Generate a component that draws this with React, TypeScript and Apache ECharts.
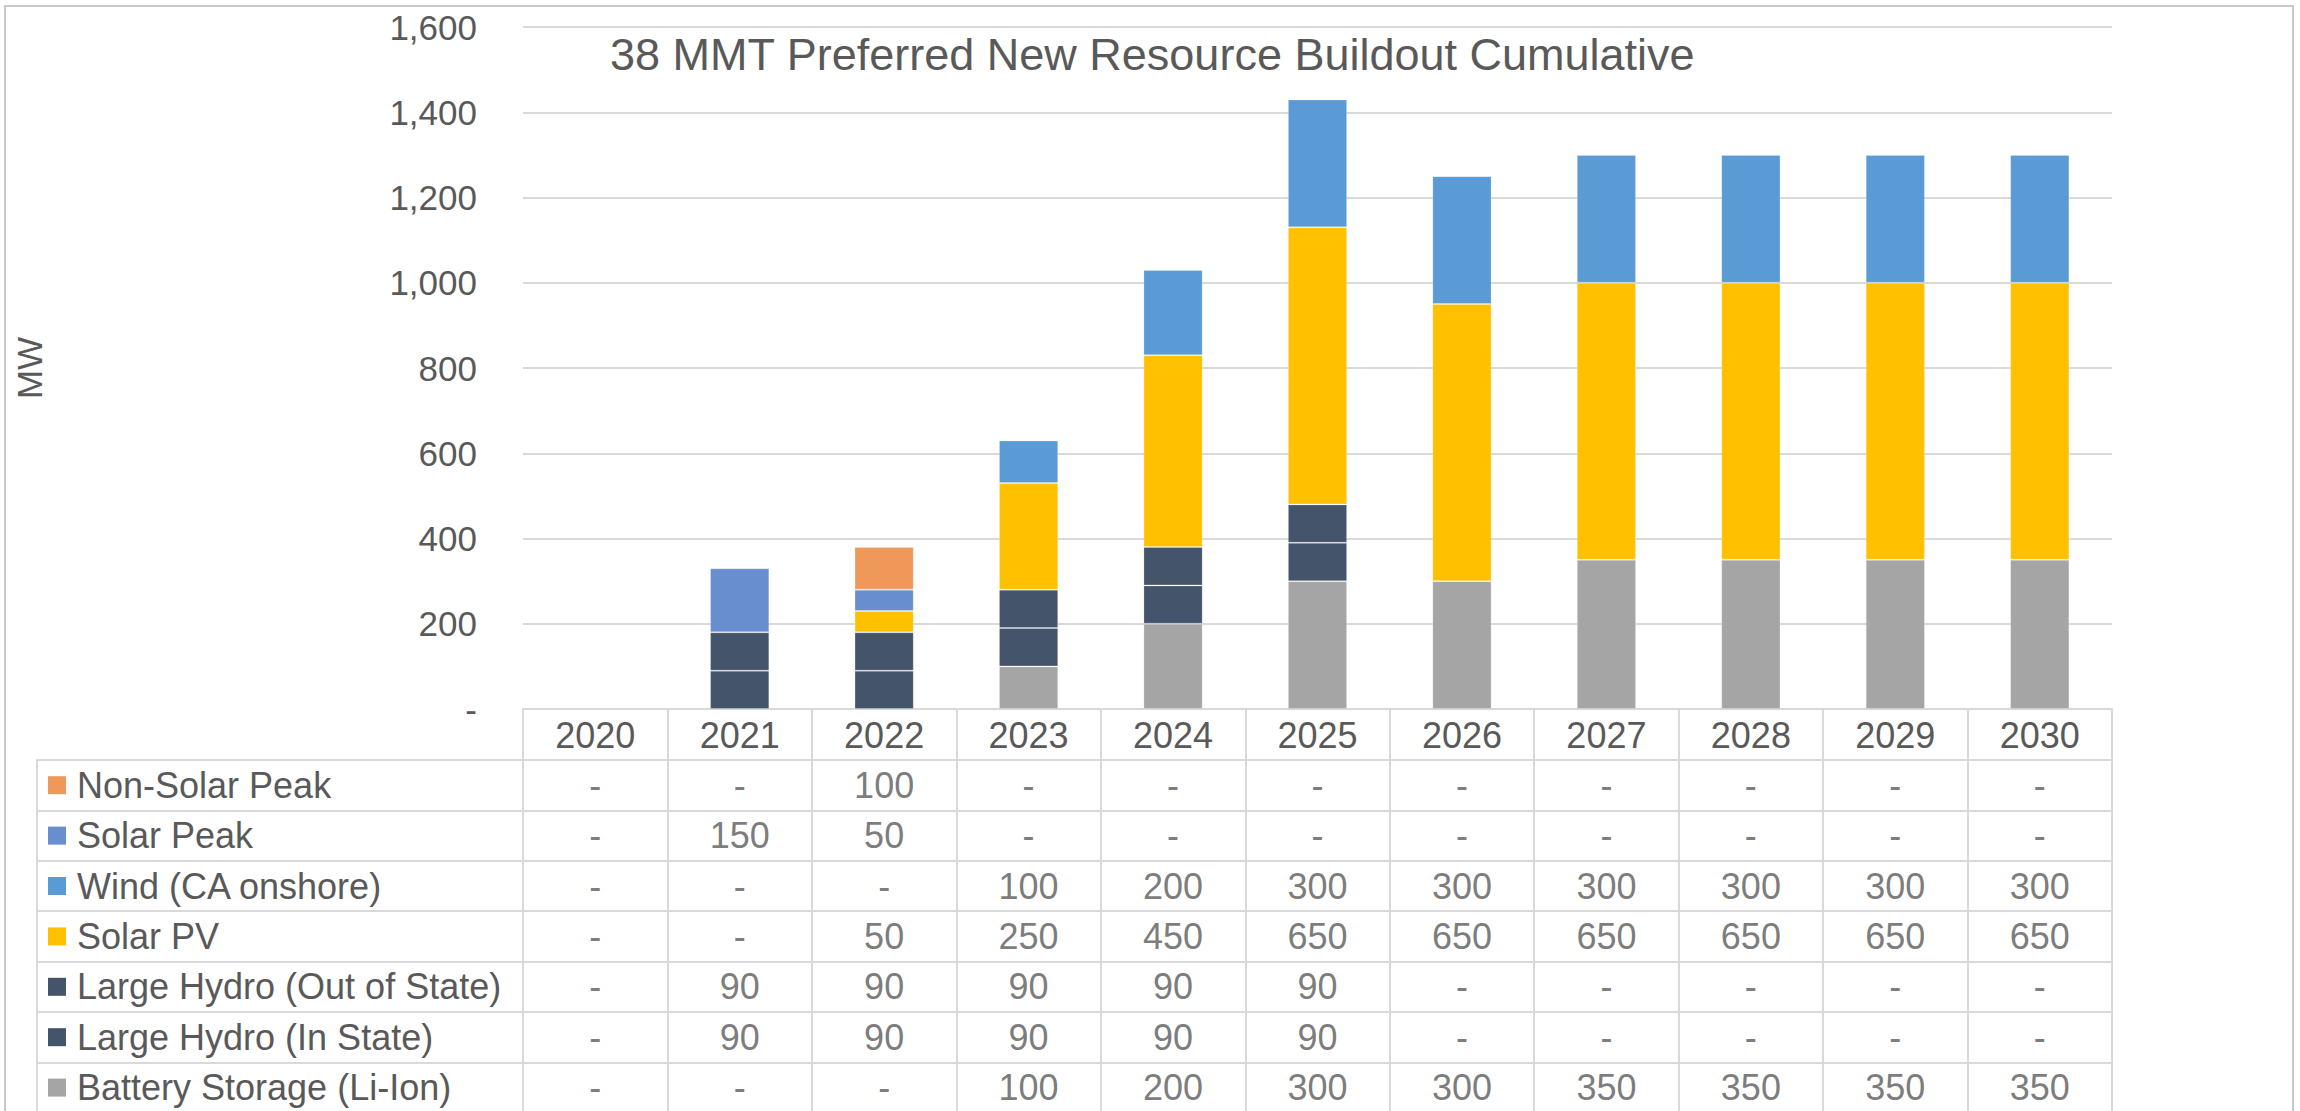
import React, { useEffect, useRef } from "react";
import * as echarts from "echarts";

const titleText = "38 MMT Preferred New Resource Buildout Cumulative";
const yAxisName = "MW";
const years = ["2020", "2021", "2022", "2023", "2024", "2025", "2026", "2027", "2028", "2029", "2030"];
const yMin = 0;
const yMax = 1600;
const yStep = 200;

const nonSolarPeak = [0, 0, 100, 0, 0, 0, 0, 0, 0, 0, 0];
const solarPeak = [0, 150, 50, 0, 0, 0, 0, 0, 0, 0, 0];
const windCA = [0, 0, 0, 100, 200, 300, 300, 300, 300, 300, 300];
const solarPV = [0, 0, 50, 250, 450, 650, 650, 650, 650, 650, 650];
const hydroOutOfState = [0, 90, 90, 90, 90, 90, 0, 0, 0, 0, 0];
const hydroInState = [0, 90, 90, 90, 90, 90, 0, 0, 0, 0, 0];
const batteryStorage = [0, 0, 0, 100, 200, 300, 300, 350, 350, 350, 350];

// stacking order, bottom to top
const stackSeries = [
  { name: "Battery Storage (Li-Ion)", data: batteryStorage, color: "#A5A5A5" },
  { name: "Large Hydro (In State)", data: hydroInState, color: "#44546A" },
  { name: "Large Hydro (Out of State)", data: hydroOutOfState, color: "#44546A" },
  { name: "Solar PV", data: solarPV, color: "#FFC000" },
  { name: "Wind (CA onshore)", data: windCA, color: "#5B9BD5" },
  { name: "Solar Peak", data: solarPeak, color: "#698ED0" },
  { name: "Non-Solar Peak", data: nonSolarPeak, color: "#F0975A" },
];
// table rows, top to bottom
const tableRows = [...stackSeries].reverse();

const FONT = "'Liberation Sans', Arial, Helvetica, sans-serif";
const TEXT = "#595959";
const LINE = "#D9D9D9";

export default function App() {
  const ref = useRef<HTMLDivElement>(null);

  useEffect(() => {
    if (!ref.current) return;
    const chart = echarts.init(ref.current, null, { renderer: "svg" });

    const plotLeft = 523;
    const plotRight = 2112;
    const plotTop = 27;
    const plotBottom = 709;
    const tableTop = 760;
    const rowH = 50.4;
    const legendLeft = 37;

    const rich: Record<string, any> = {
      t: { fontSize: 36, color: TEXT, fontFamily: FONT, padding: [0, 0, 0, 11] },
    };
    tableRows.forEach((r, i) => {
      rich["m" + i] = { width: 18, height: 18, backgroundColor: r.color };
    });

    const tableData: any[] = [];
    tableRows.forEach((r) => {
      r.data.forEach((v, ci) => tableData.push([years[ci], r.name, v]));
    });

    const option: any = {
      animation: false,
      backgroundColor: "#ffffff",
      textStyle: { fontFamily: FONT },
      title: {
        text: titleText,
        left: 605,
        top: 27,
        textStyle: { fontSize: 45, fontWeight: "normal", color: TEXT, fontFamily: FONT },
      },
      graphic: [
        {
          type: "rect",
          shape: { x: 5, y: 6, width: 2288, height: 1300 },
          style: { fill: "none", stroke: "#C8C8C8", lineWidth: 2 },
          silent: true,
          z: 100,
        },
      ],
      grid: [
        {
          left: plotLeft,
          width: plotRight - plotLeft,
          top: plotTop,
          height: plotBottom - plotTop,
          outerBoundsMode: "none",
        },
        {
          left: plotLeft,
          width: plotRight - plotLeft,
          top: tableTop,
          height: rowH * tableRows.length,
          outerBoundsMode: "none",
        },
      ],
      xAxis: [
        {
          type: "category",
          gridIndex: 0,
          data: years,
          axisLine: { show: true, lineStyle: { color: LINE, width: 2 } },
          axisTick: { show: true, length: tableTop - plotBottom, lineStyle: { color: LINE, width: 2 } },
          axisLabel: { fontSize: 36, color: TEXT, fontFamily: FONT, margin: 26, verticalAlign: "middle" },
          splitLine: { show: false },
        },
        {
          type: "category",
          gridIndex: 1,
          data: years,
          axisLine: { show: false },
          axisTick: { show: false },
          axisLabel: { show: false },
          splitLine: { show: true, lineStyle: { color: LINE, width: 2 } },
        },
      ],
      yAxis: [
        {
          type: "value",
          gridIndex: 0,
          min: yMin,
          max: yMax,
          interval: yStep,
          name: yAxisName,
          nameLocation: "middle",
          nameGap: 476,
          nameTextStyle: { fontSize: 35, color: TEXT, fontFamily: FONT },
          axisLine: { show: false },
          axisTick: { show: false },
          axisLabel: {
            fontSize: 35,
            color: TEXT,
            fontFamily: FONT,
            margin: 46,
            formatter: (v: number) => (v === 0 ? "-" : v.toLocaleString("en-US")),
          },
          splitLine: { show: true, lineStyle: { color: LINE, width: 2 } },
        },
        {
          type: "category",
          gridIndex: 1,
          inverse: true,
          data: tableRows.map((r) => r.name),
          axisLine: { show: true, lineStyle: { color: LINE, width: 2 } },
          axisTick: { show: true, length: plotLeft - legendLeft, lineStyle: { color: LINE, width: 2 } },
          axisLabel: {
            align: "left",
            margin: plotLeft - 48,
            formatter: (v: string, i: number) => `{m${i}|}{t|${v}}`,
            rich,
          },
          splitLine: { show: true, lineStyle: { color: LINE, width: 2 } },
        },
        {
          type: "category",
          gridIndex: 1,
          position: "left",
          offset: plotLeft - legendLeft,
          inverse: true,
          data: tableRows.map((r) => r.name),
          axisLine: { show: true, lineStyle: { color: LINE, width: 2 } },
          axisTick: { show: false },
          axisLabel: { show: false },
          splitLine: { show: false },
        },
      ],
      series: [
        ...stackSeries.map((s) => ({
          name: s.name,
          type: "bar",
          stack: "total",
          xAxisIndex: 0,
          yAxisIndex: 0,
          barWidth: "41%",
          data: s.data.map((v) => (v === 0 ? "-" : v)),
          itemStyle: { color: s.color, borderColor: "rgba(255,255,255,0.22)", borderWidth: 1 },
          silent: true,
        })),
        {
          name: "table",
          type: "scatter",
          xAxisIndex: 1,
          yAxisIndex: 1,
          symbolSize: 1,
          itemStyle: { color: "rgba(0,0,0,0)" },
          silent: true,
          data: tableData,
          label: {
            show: true,
            position: "inside",
            fontSize: 36,
            color: TEXT,
            fontFamily: FONT,
            formatter: (p: any) => (p.value[2] === 0 ? "-" : String(p.value[2])),
          },
        },
      ],
    };

    chart.setOption(option);
    return () => chart.dispose();
  }, []);

  return (
    <div
      ref={ref}
      style={{ position: "fixed", left: 0, top: 0, width: 2300, height: 1111, background: "#fff" }}
    />
  );
}
